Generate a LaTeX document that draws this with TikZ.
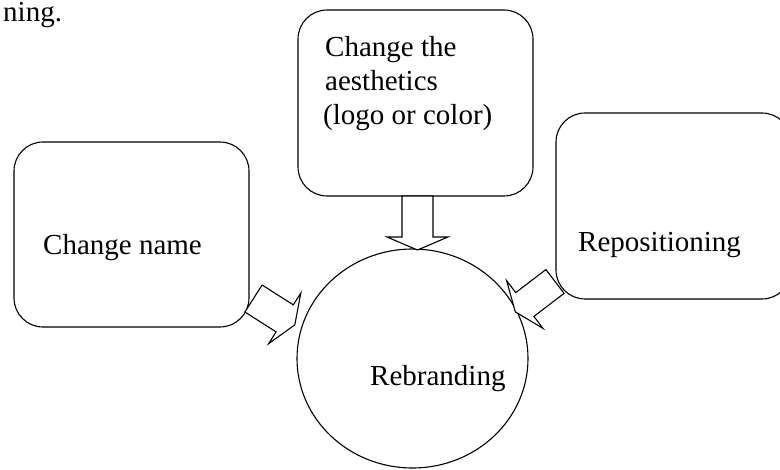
\documentclass[tikz,border=0pt]{standalone}
\usepackage{fontspec}
\setmainfont{Liberation Serif}
\usetikzlibrary{shapes.geometric}
\begin{document}
\begin{tikzpicture}[x=1pt,y=-1pt,
  box/.style={draw=black,line width=1.1pt,rounded corners=29pt,fill=white,inner sep=0pt},
  txt/.style={anchor=base west,inner sep=0pt,font=\fontsize{29}{34}\selectfont},
  barrow/.style={draw=black,line width=1.1pt,fill=white,line join=miter}]
\clip (0,0) rectangle (780,470);
\fill[white] (0,0) rectangle (780,470);
% boxes
\node[box,minimum width=235pt,minimum height=185pt] (cn) at (131.5,234.5) {};
\node[box,minimum width=235pt,minimum height=186pt] (ae) at (415.5,103) {};
\node[box,minimum width=235pt,minimum height=186pt] (rp) at (673.5,206) {};
\node[draw=black,line width=1.1pt,ellipse,minimum width=231pt,minimum height=219pt,inner sep=0pt] (rb) at (412.5,358.5) {};
% block arrows
\draw[barrow] (402,196) -- (433,196) -- (433,237) -- (448,237) -- (417.5,250) -- (387,237) -- (402,237) -- cycle;
\draw[barrow] (244.9,312) -- (262.1,285) -- (293.3,304.9) -- (300.8,293.1) -- (294.8,324.9) -- (268.6,343.7) -- (276.1,331.9) -- cycle;
\draw[barrow] (564.1,293.4) -- (545.9,269.6) -- (515.7,292.6) -- (506.6,280.6) -- (515.3,311.8) -- (543,328.4) -- (533.9,316.4) -- cycle;
% texts
\node[txt] (t0) at (3,22) {ning.};
\node[txt] (t1) at (325,57) {Change the};
\node[txt] (t2) at (325,91) {aesthetics};
\node[txt] (t3) at (323,125) {(logo or color)};
\node[txt] (t4) at (43,255) {Change name};
\node[txt] (t5) at (578,252) {Repositioning};
\node[txt] (t6) at (370,386) {Rebranding};
\end{tikzpicture}
\end{document}
